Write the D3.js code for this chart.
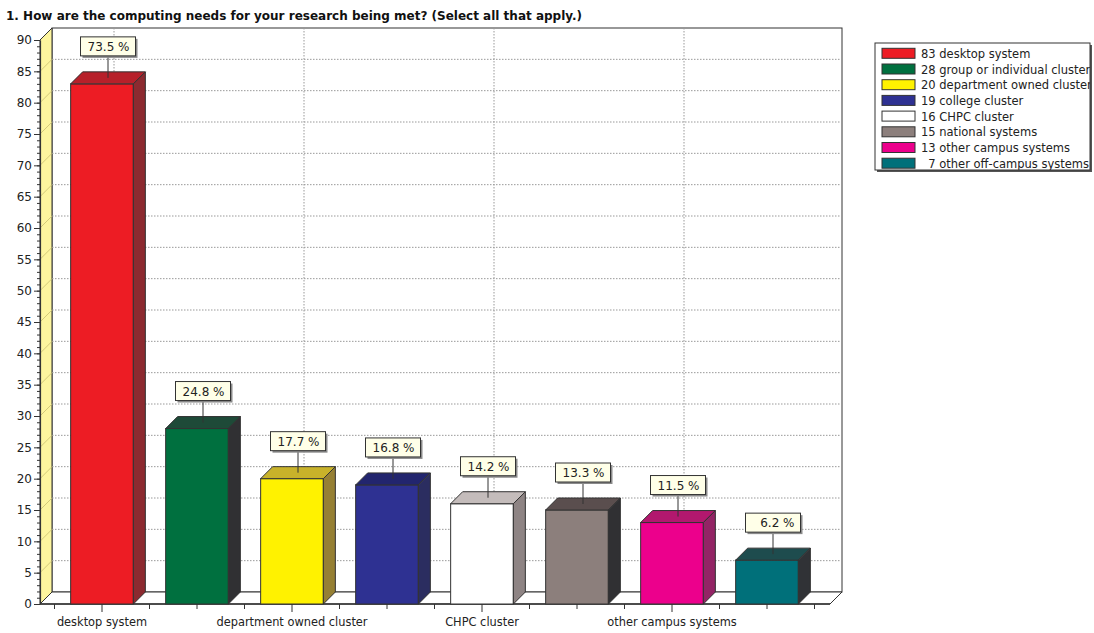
<!DOCTYPE html>
<html>
<head>
<meta charset="utf-8">
<script src="https://cdn.jsdelivr.net/npm/d3@7"></script>
<style>
  html, body { margin: 0; padding: 0; background: #fff; }
  svg { display: block; }
  text { font-family: "DejaVu Sans", Verdana, sans-serif; }
</style>
</head>
<body>
<svg id="chart" width="1094" height="633"></svg>
<script>
// ---------- data ----------
const title = "1. How are the computing needs for your research being met? (Select all that apply.)";
const categories = ["desktop system", "group or individual cluster", "department owned cluster", "college cluster",
                    "CHPC cluster", "national systems", "other campus systems", "other off-campus systems"];
const counts = [83, 28, 20, 19, 16, 15, 13, 7];
const percents = ["73.5 %", "24.8 %", "17.7 %", "16.8 %", "14.2 %", "13.3 %", "11.5 %", "6.2 %"];
const legendLabels = ["83 desktop system", "28 group or individual cluster", "20 department owned cluster",
                      "19 college cluster", "16 CHPC cluster", "15 national systems",
                      "13 other campus systems", "  7 other off-campus systems"];
const shownXLabels = ["desktop system", "department owned cluster", "CHPC cluster", "other campus systems"];
const yMajorTicks = d3.range(0, 91, 5);
const yMinorTicks = d3.range(0, 91, 1);

const frontColors = ["#ED1C24", "#00703F", "#FFF200", "#2E3192", "#FFFFFF", "#8C7F7C", "#EC008C", "#00707A"];
const topColors   = ["#B7202A", "#1E4A38", "#C8B22A", "#22256E", "#C4BCBB", "#5A4E4E", "#B2186E", "#1E4C4E"];
const sideColors  = ["#8C2A30", "#303033", "#968034", "#2B2D60", "#8E8484", "#303033", "#932465", "#303236"];

// ---------- layout ----------
const svg = d3.select("#chart");
const X0 = 40, X1 = 830;      // front floor extents
const DX = 12, DY = 12;        // depth offset
const y = d3.scaleLinear().domain([0, 90]).range([604, 40]);
const x = d3.scaleBand().domain(categories).range([54.5, 814.5]).paddingInner(0.34).paddingOuter(0.17);
const bw = x.bandwidth();
const yBase = y(0), yTop = y(90);
const ink = "#333";

// title
svg.append("text").attr("x", 6).attr("y", 20)
  .attr("font-weight", "bold").attr("font-size", 12).attr("fill", "#111")
  .text(title);

// ---------- walls ----------
svg.append("rect").attr("x", X0 + DX).attr("y", yTop - DY)
  .attr("width", X1 - X0).attr("height", yBase - yTop)
  .attr("fill", "#fff").attr("stroke", ink).attr("stroke-width", 1);
svg.append("polygon")
  .attr("points", [[X0, yBase], [X0, yTop], [X0 + DX, yTop - DY], [X0 + DX, yBase - DY]].join(" "))
  .attr("fill", "#FDF59E").attr("stroke", ink).attr("stroke-width", 1);
svg.append("polygon")
  .attr("points", [[X0, yBase], [X1, yBase], [X1 + DX, yBase - DY], [X0 + DX, yBase - DY]].join(" "))
  .attr("fill", "#fff").attr("stroke", ink).attr("stroke-width", 1);

const gridVals = yMajorTicks.filter(v => v > 0 && v < 90);
svg.append("g").selectAll("line").data(gridVals).join("line")
  .attr("x1", X0 + DX).attr("x2", X1 + DX)
  .attr("y1", d => y(d) - DY).attr("y2", d => y(d) - DY)
  .attr("stroke", "#999").attr("stroke-width", 1).attr("stroke-dasharray", "1.5,1.5");
svg.append("g").selectAll("line").data(gridVals).join("line")
  .attr("x1", X0).attr("x2", X0 + DX)
  .attr("y1", d => y(d)).attr("y2", d => y(d) - DY)
  .attr("stroke", "#c9bf70").attr("stroke-width", 0.8);
svg.append("g").selectAll("line").data(shownXLabels).join("line")
  .attr("x1", d => x(d) + bw / 2 + DX).attr("x2", d => x(d) + bw / 2 + DX)
  .attr("y1", yTop - DY).attr("y2", yBase - DY)
  .attr("stroke", "#999").attr("stroke-width", 1).attr("stroke-dasharray", "1.5,1.5");

// ---------- y axis ----------
const yAxisMinor = d3.axisLeft(y).tickValues(yMinorTicks).tickSize(3).tickFormat("");
const gMinor = svg.append("g").attr("transform", `translate(${X0},0)`).call(yAxisMinor);
gMinor.select(".domain").remove();
gMinor.selectAll("line").attr("stroke", ink);
const yAxis = d3.axisLeft(y).tickValues(yMajorTicks).tickSize(6).tickPadding(2).tickSizeOuter(0);
const gY = svg.append("g").attr("transform", `translate(${X0},0)`).call(yAxis);
gY.select(".domain").attr("stroke", ink).attr("stroke-width", 1.2);
gY.selectAll("line").attr("stroke", ink);
gY.selectAll("text").attr("font-family", "'Liberation Sans', Arial, sans-serif")
  .attr("font-size", 12).attr("fill", "#222");

// ---------- x axis ----------
const step = x.step();
const gap = step - bw;
const halfTicks = [];
categories.forEach((c, i) => {
  halfTicks.push({ pos: x(c) - gap / 2, long: false });
  halfTicks.push({ pos: x(c) + bw / 2, long: shownXLabels.includes(c) });
});
halfTicks.push({ pos: x(categories[categories.length - 1]) + bw + gap / 2, long: false });
svg.append("line").attr("x1", X0).attr("x2", X1).attr("y1", yBase).attr("y2", yBase)
  .attr("stroke", ink).attr("stroke-width", 1.5);
svg.append("g").selectAll("line").data(halfTicks).join("line")
  .attr("x1", d => d.pos).attr("x2", d => d.pos)
  .attr("y1", yBase).attr("y2", d => yBase + (d.long ? 8 : 5))
  .attr("stroke", ink);
const xAxis = d3.axisBottom(x).tickValues(shownXLabels).tickSize(0).tickPadding(14);
const gX = svg.append("g").attr("transform", `translate(0,${yBase})`).call(xAxis);
gX.select(".domain").remove();
gX.selectAll("text").attr("font-family", "'DejaVu Sans', Verdana, sans-serif")
  .attr("font-size", 11.4).attr("fill", "#222");

// ---------- bars ----------
const bars = svg.append("g").selectAll("g").data(categories).join("g");
bars.append("rect")
  .attr("x", d => x(d)).attr("y", (d, i) => y(counts[i]))
  .attr("width", bw).attr("height", (d, i) => yBase - y(counts[i]))
  .attr("fill", (d, i) => frontColors[i]).attr("stroke", ink).attr("stroke-width", 1);
bars.append("polygon")
  .attr("points", (d, i) => {
    const xl = x(d), yt = y(counts[i]);
    return [[xl, yt], [xl + DX, yt - DY], [xl + bw + DX, yt - DY], [xl + bw, yt]].join(" ");
  })
  .attr("fill", (d, i) => topColors[i]).attr("stroke", ink).attr("stroke-width", 1);
bars.append("polygon")
  .attr("points", (d, i) => {
    const xr = x(d) + bw, yt = y(counts[i]);
    return [[xr, yt], [xr + DX, yt - DY], [xr + DX, yBase - DY], [xr, yBase]].join(" ");
  })
  .attr("fill", (d, i) => sideColors[i]).attr("stroke", ink).attr("stroke-width", 1);

// ---------- value labels ----------
const boxW = 55, boxH = 19;
const labels = svg.append("g").selectAll("g").data(categories).join("g");
labels.append("line")
  .attr("x1", d => x(d) + bw / 2 + DX / 2).attr("x2", d => x(d) + bw / 2 + DX / 2)
  .attr("y1", (d, i) => y(counts[i]) - 28).attr("y2", (d, i) => y(counts[i]) - DY / 2)
  .attr("stroke", ink).attr("stroke-width", 1);
labels.append("rect")
  .attr("x", d => x(d) + bw / 2 + DX / 2 - boxW / 2 + 2)
  .attr("y", (d, i) => y(counts[i]) - 28 - boxH + 2)
  .attr("width", boxW).attr("height", boxH).attr("fill", "#8a8a8a");
labels.append("rect")
  .attr("x", d => x(d) + bw / 2 + DX / 2 - boxW / 2)
  .attr("y", (d, i) => y(counts[i]) - 28 - boxH)
  .attr("width", boxW).attr("height", boxH)
  .attr("fill", "#FFFFE8").attr("stroke", ink).attr("stroke-width", 1);
labels.append("text")
  .attr("x", d => x(d) + bw / 2 + DX / 2 + boxW / 2 - 6)
  .attr("y", (d, i) => y(counts[i]) - 28 - 5)
  .attr("text-anchor", "end").attr("font-size", 12).attr("fill", "#222")
  .attr("font-family", "'DejaVu Sans', Verdana, sans-serif")
  .text((d, i) => percents[i]);

// ---------- legend ----------
const LX = 875, LY = 43, LW = 215, LH = 127;
const defs = svg.append("defs");
defs.append("clipPath").attr("id", "legclip").append("rect")
  .attr("x", LX).attr("y", LY).attr("width", LW).attr("height", LH);
svg.append("rect").attr("x", LX + 2).attr("y", LY + 2).attr("width", LW).attr("height", LH).attr("fill", "#555");
svg.append("rect").attr("x", LX).attr("y", LY).attr("width", LW).attr("height", LH).attr("fill", "#fff");
const leg = svg.append("g").attr("clip-path", "url(#legclip)");
const rowY = i => LY + 10.3 + i * 15.7;
leg.selectAll("rect").data(legendLabels).join("rect")
  .attr("x", LX + 7).attr("y", (d, i) => rowY(i) - 5).attr("width", 33).attr("height", 10)
  .attr("fill", (d, i) => frontColors[i]).attr("stroke", ink).attr("stroke-width", 1);
leg.selectAll("text").data(legendLabels).join("text")
  .attr("x", LX + 46).attr("y", (d, i) => rowY(i) + 4.5)
  .attr("font-size", 11.5).attr("fill", "#222").style("white-space", "pre")
  .text(d => d);
svg.append("rect").attr("x", LX).attr("y", LY).attr("width", LW).attr("height", LH)
  .attr("fill", "none").attr("stroke", ink).attr("stroke-width", 1);
</script>
</body>
</html>
